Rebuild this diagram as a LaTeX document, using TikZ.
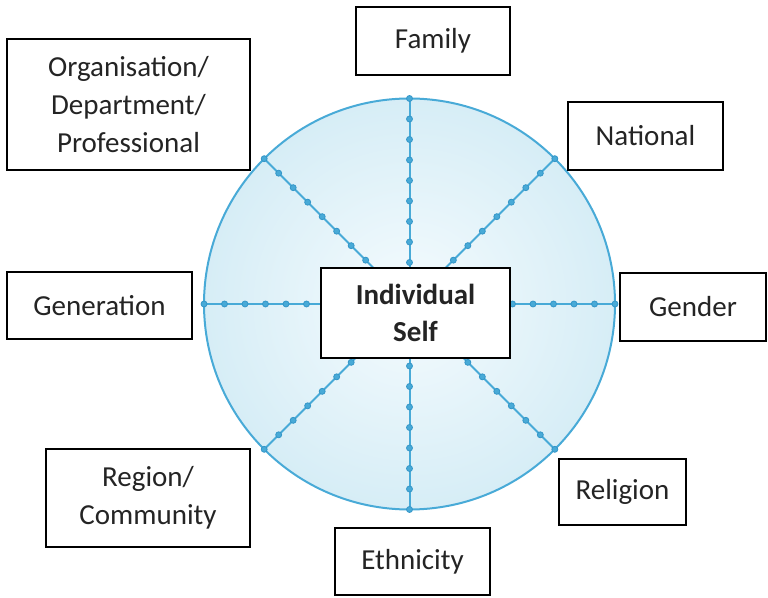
\documentclass[tikz,border=0pt]{standalone}
\usepackage{fontspec}
\setmainfont{Carlito}
\usetikzlibrary{calc}

\definecolor{spoke}{RGB}{72,170,215}
\definecolor{spokedot}{RGB}{52,150,200}
\definecolor{ink}{RGB}{36,36,36}
\pgfdeclareradialshading{discshade}{\pgfpoint{0bp}{0bp}}{%
  rgb(0bp)=(0.96,0.985,0.995); rgb(25bp)=(0.84,0.93,0.965); rgb(50bp)=(0.64,0.83,0.91)}

\tikzset{
  label box/.style={draw=black, line width=2.6pt, fill=white, text=ink,
    align=center, inner sep=0pt,
    font=\fontsize{29}{38}\selectfont},
  self box/.style={label box, font=\bfseries\fontsize{29}{37}\selectfont},
  spoke line/.style={draw=spoke, line width=2pt},
  spoke dot/.style={fill=spoke, draw=spokedot, line width=0.8pt},
}

\begin{document}
\begin{tikzpicture}[x=1pt,y=1pt]
  \useasboundingbox (0,0) rectangle (768,597);

  % shaded disc
  \node[circle, minimum size=411pt, inner sep=0pt, shading=discshade,
        draw=spoke, line width=2pt] (circ) at (409.5,293) {};

  % spokes from the disc centre to its rim, with evenly spaced dots
  \foreach \a in {0,45,...,315}{
    \draw[spoke line] (circ.center) -- (circ.\a);
    \foreach \k in {0,...,8}{
      \fill[spoke dot] ($(circ.center)+(\a:{205.5-20.5*\k})$) circle (3pt);
    }
  }

  % centre box
  \node[self box, minimum width=189pt, minimum height=90pt] (self) at (415.5,284)
    {Individual\\Self};

  % surrounding boxes
  \node[label box, minimum width=243pt, minimum height=131pt] (org) at (128.5,492.5)
    {Organisation/\\Department/\\Professional};
  \node[label box, minimum width=154pt, minimum height=68pt] (family) at (433,556) {Family};
  \node[label box, minimum width=155pt, minimum height=68pt] (national) at (645.5,461) {National};
  \node[label box, minimum width=185pt, minimum height=67pt] (generation) at (99.5,291.5) {Generation};
  \node[label box, minimum width=146pt, minimum height=68pt] (gender) at (693,290) {Gender};
  \node[label box, minimum width=204pt, minimum height=98pt] (region) at (148,99)
    {Region/\\Community};
  \node[label box, minimum width=155pt, minimum height=67pt] (ethnicity) at (412.5,35.5) {Ethnicity};
  \node[label box, minimum width=127pt, minimum height=66pt] (religion) at (622.5,105) {Religion};
\end{tikzpicture}
\end{document}
